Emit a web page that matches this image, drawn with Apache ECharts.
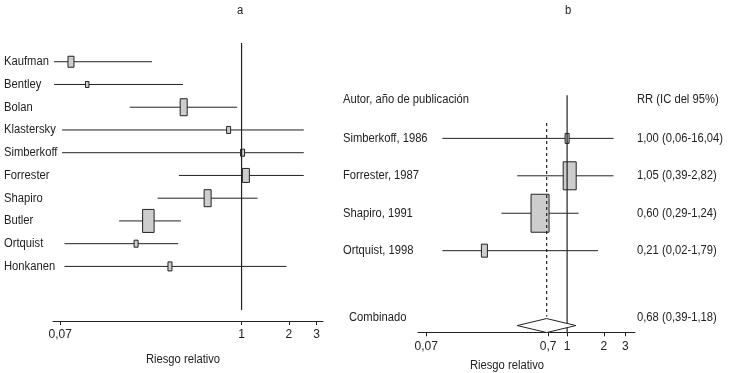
<!DOCTYPE html>
<html>
<head>
<meta charset="utf-8">
<script src="https://cdn.jsdelivr.net/npm/echarts@6/dist/echarts.min.js"></script>
<style>
  html, body { margin: 0; background: #fff; }
  #chart { width: 730px; height: 373px; }
</style>
</head>
<body>
<div id="chart"></div>
<script>
// panel a: individual studies
const studiesA = ['Kaufman', 'Bentley', 'Bolan', 'Klastersky', 'Simberkoff', 'Forrester', 'Shapiro', 'Butler', 'Ortquist', 'Honkanen'];
const rrA = [0.082, 0.104, 0.428, 0.827, 1.015, 1.065, 0.608, 0.255, 0.213, 0.35];
const lowA = [0.064, 0.064, 0.194, 0.072, 0.072, 0.399, 0.292, 0.166, 0.0745, 0.0745];
const highA = [0.269, 0.424, 0.938, 2.49, 2.49, 2.49, 1.264, 0.411, 0.395, 1.93];
const ticksA = [0.07, 1, 2, 3];

// panel b: studies kept in the pooled estimate
const studiesB = ['Simberkoff, 1986', 'Forrester, 1987', 'Shapiro, 1991', 'Ortquist, 1998'];
const rrB = [1.00, 1.05, 0.60, 0.21];
const lowB = [0.06, 0.39, 0.29, 0.02];
const highB = [16.04, 2.82, 1.24, 1.79];
const pooledName = 'Combinado';
const pooledRR = 0.68;
const pooledLow = 0.39;
const pooledHigh = 1.18;
const ticksB = [0.07, 0.7, 1, 2, 3];

// box sizes (width, height in px) ~ study weight
const boxA = [[6, 11], [3.5, 6], [7, 17], [4, 7], [4, 7], [7, 14], [7, 17], [11.5, 23], [4, 7], [4, 9]];
const boxB = [[4, 10], [13, 28], [18, 38], [6, 13]];

const INK = '#222';
const FILL = '#cdcdcd';
const FONT = "'Liberation Sans', Arial, sans-serif";
const CLIP_B = [0.095, 2.4]; // where the whiskers of panel b are cut

// the original uses a condensed face: squeeze the text to the header's width
const ctx = document.createElement('canvas').getContext('2d');
ctx.font = '12px ' + FONT;
const SX = 126 / ctx.measureText('Autor, año de publicación').width;

const fmt = v => v.toFixed(2).replace('.', ',');
const tickFmt = v => String(parseFloat(Number(v).toPrecision(3))).replace('.', ',');

const chart = echarts.init(document.getElementById('chart'));

function xAxisFor(idx, min, max, ticks) {
  return {
    type: 'log', logBase: 10, gridIndex: idx, min: min, max: max,
    axisLine: { onZero: false, lineStyle: { color: INK, width: 1 } },
    axisTick: { show: true, length: 4, customValues: ticks, lineStyle: { color: INK } },
    axisLabel: { customValues: ticks, formatter: tickFmt, margin: 8, fontSize: 12, color: INK, fontFamily: FONT },
    splitLine: { show: false }, minorTick: { show: false }
  };
}

function text(x, y, s, align) {
  return {
    type: 'text', x: x, y: y, scaleX: SX,
    style: { text: s, fill: INK, font: '12px ' + FONT, align: align || 'left', verticalAlign: 'middle' }
  };
}

function refLine(grid, x, y0, y1, dashed) {
  return {
    type: 'line', xAxisIndex: grid, yAxisIndex: grid, z: 5, silent: true,
    showSymbol: false, animation: false,
    data: [[x, y0], [x, y1]],
    lineStyle: { color: INK, width: 1.2, type: dashed ? [3, 3] : 'solid' }
  };
}

const option = {
  animation: false,
  grid: [
    { left: 53, width: 270, top: 39, height: 282 },
    { left: 418, width: 217, top: 63.5, height: 268.8 }
  ],
  xAxis: [
    xAxisFor(0, 0.063, 3.3, ticksA),
    xAxisFor(1, 0.06, 3.6, ticksB)
  ],
  yAxis: [
    { type: 'value', gridIndex: 0, min: 0, max: 12.4, inverse: true, show: false },
    { type: 'value', gridIndex: 1, min: -1, max: 6.18, inverse: true, show: false }
  ],
  graphic: [
    { type: 'group', children: [
      text(240, 11, 'a', 'center'),
      text(568, 11, 'b', 'center'),
      text(183, 360, 'Riesgo relativo', 'center'),
      text(507, 366, 'Riesgo relativo', 'center'),
      text(343, 100, 'Autor, año de publicación'),
      text(637, 100, 'RR (IC del 95%)')
    ] }
  ],
  series: [
    {
      type: 'custom', xAxisIndex: 0, yAxisIndex: 0, clip: false,
      data: studiesA.map((n, i) => [rrA[i], lowA[i], highA[i], i + 1]),
      encode: { x: [0, 1, 2], y: 3 },
      renderItem: function (params, api) {
        const i = params.dataIndex;
        const row = api.value(3);
        const c = api.coord([api.value(0), row]);
        const l = api.coord([api.value(1), row]);
        const h = api.coord([api.value(2), row]);
        const w = boxA[i][0], ht = boxA[i][1];
        return { type: 'group', children: [
          { type: 'line', shape: { x1: l[0], y1: c[1], x2: h[0], y2: c[1] }, style: { stroke: INK, lineWidth: 1 } },
          { type: 'rect', shape: { x: c[0] - w / 2, y: c[1] - ht / 2, width: w, height: ht }, style: { fill: FILL, stroke: INK, lineWidth: 1 } },
          text(4, c[1], studiesA[i])
        ] };
      }
    },
    {
      type: 'custom', xAxisIndex: 1, yAxisIndex: 1, clip: false,
      data: studiesB.map((n, i) => [rrB[i], lowB[i], highB[i], i + 1]),
      encode: { x: [0, 1, 2], y: 3 },
      renderItem: function (params, api) {
        const i = params.dataIndex;
        const row = api.value(3);
        const c = api.coord([api.value(0), row]);
        const l = api.coord([Math.max(api.value(1), CLIP_B[0]), row]);
        const h = api.coord([Math.min(api.value(2), CLIP_B[1]), row]);
        const w = boxB[i][0], ht = boxB[i][1];
        return { type: 'group', children: [
          { type: 'line', shape: { x1: l[0], y1: c[1], x2: h[0], y2: c[1] }, style: { stroke: INK, lineWidth: 1 } },
          { type: 'rect', shape: { x: c[0] - w / 2, y: c[1] - ht / 2, width: w, height: ht }, style: { fill: FILL, stroke: INK, lineWidth: 1 } },
          text(343, c[1], studiesB[i]),
          text(637, c[1], fmt(rrB[i]) + ' (' + fmt(lowB[i]) + '-' + fmt(highB[i]) + ')')
        ] };
      }
    },
    {
      type: 'custom', xAxisIndex: 1, yAxisIndex: 1, clip: false, z: 6,
      data: [[pooledRR, pooledLow, pooledHigh, 6]],
      encode: { x: [0, 1, 2], y: 3 },
      renderItem: function (params, api) {
        const row = api.value(3);
        const c = api.coord([api.value(0), row]);
        const l = api.coord([api.value(1), row]);
        const h = api.coord([api.value(2), row]);
        return { type: 'group', children: [
          { type: 'polygon', shape: { points: [[l[0], c[1]], [c[0], c[1] - 7], [h[0], c[1]], [c[0], c[1] + 7]] },
            style: { fill: '#fff', stroke: INK, lineWidth: 1 } },
          text(349, c[1] - 7.5, pooledName),
          text(637, c[1] - 7.5, fmt(pooledRR) + ' (' + fmt(pooledLow) + '-' + fmt(pooledHigh) + ')')
        ] };
      }
    },
    refLine(0, 1, 0.18, 11.92, false),
    refLine(1, 1, -0.15, 6.18, false),
    refLine(1, pooledRR, 0.59, 5.76, true)
  ]
};

chart.setOption(option);
</script>
</body>
</html>
